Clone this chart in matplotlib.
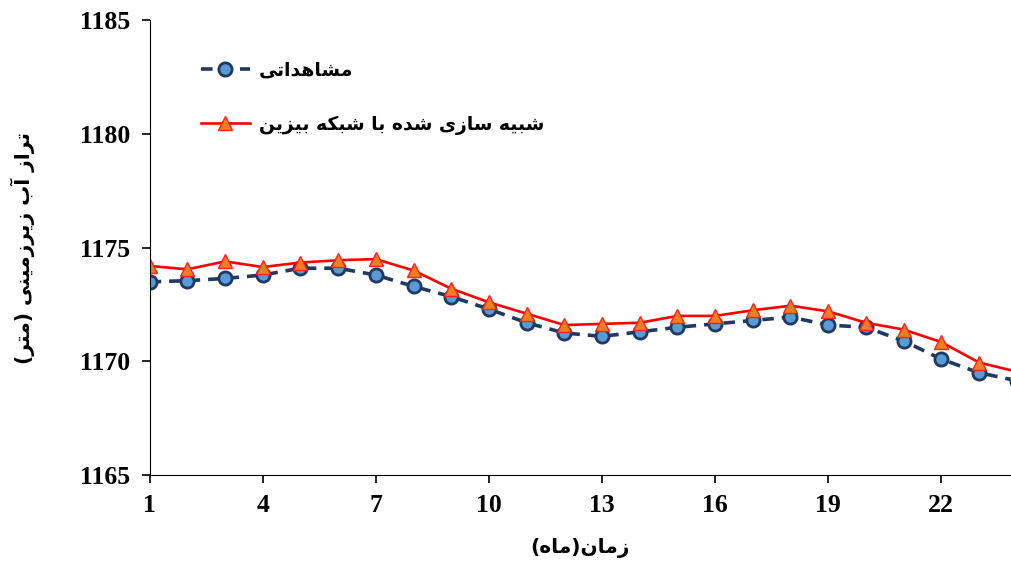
import numpy as np
import matplotlib.pyplot as plt

# presentation forms: isolated, final, initial, medial
FORMS = {
    'ا': ('\uFE8D', '\uFE8E', None, None),
    'آ': ('\uFE81', '\uFE82', None, None),
    'ب': ('\uFE8F', '\uFE90', '\uFE91', '\uFE92'),
    'ت': ('\uFE95', '\uFE96', '\uFE97', '\uFE98'),
    'د': ('\uFEA9', '\uFEAA', None, None),
    'ر': ('\uFEAD', '\uFEAE', None, None),
    'ز': ('\uFEAF', '\uFEB0', None, None),
    'س': ('\uFEB1', '\uFEB2', '\uFEB3', '\uFEB4'),
    'ش': ('\uFEB5', '\uFEB6', '\uFEB7', '\uFEB8'),
    'ک': ('\uFB8E', '\uFB8F', '\uFB90', '\uFB91'),
    'م': ('\uFEE1', '\uFEE2', '\uFEE3', '\uFEE4'),
    'ن': ('\uFEE5', '\uFEE6', '\uFEE7', '\uFEE8'),
    'ه': ('\uFEE9', '\uFEEA', '\uFEEB', '\uFEEC'),
    'ی': ('\uFBFC', '\uFBFD', '\uFBFE', '\uFBFF'),
}


def fa(text):
    out = []
    for i, ch in enumerate(text):
        if ch not in FORMS:
            out.append(ch)
            continue
        prev = text[i - 1] if i > 0 else ''
        nxt = text[i + 1] if i + 1 < len(text) else ''
        join_prev = prev in FORMS and FORMS[prev][2] is not None
        join_next = FORMS[ch][2] is not None and nxt in FORMS
        f = FORMS[ch]
        if join_prev and join_next:
            out.append(f[3])
        elif join_prev:
            out.append(f[1])
        elif join_next:
            out.append(f[2])
        else:
            out.append(f[0])
    vis = ''.join(reversed(out))
    return vis.translate(str.maketrans('()', ')('))


months = np.arange(1, 25)
observed = [1173.5, 1173.55, 1173.65, 1173.8, 1174.1, 1174.1, 1173.8, 1173.3,
            1172.85, 1172.3, 1171.7, 1171.25, 1171.1, 1171.3, 1171.5, 1171.65,
            1171.8, 1171.95, 1171.6, 1171.5, 1170.9, 1170.1, 1169.5, 1169.15]
simulated = [1174.2, 1174.05, 1174.4, 1174.15, 1174.35, 1174.45, 1174.5, 1174.0,
             1173.2, 1172.6, 1172.1, 1171.6, 1171.65, 1171.7, 1172.0, 1172.0,
             1172.25, 1172.45, 1172.2, 1171.7, 1171.4, 1170.85, 1169.95, 1169.55]
xticks = np.arange(1, 23, 3)
yticks = [1165, 1170, 1175, 1180, 1185]

lbl_obs = 'مشاهداتی'
lbl_sim = 'شبیه سازی شده با شبکه بیزین'
xlab = 'زمان(ماه)'
ylab = 'تراز آب زیرزمینی (متر)'

fig = plt.figure(figsize=(10.11, 5.63), dpi=100)
ax = fig.add_axes([0.148, 0.1563, 0.852, 0.8073])

ax.plot(months, observed, color='#1F3864', lw=2.6, linestyle=(0, (3.2, 2.2)),
        marker='o', markersize=9.5, markerfacecolor='#5B9BD5',
        markeredgecolor='#1F3864', markeredgewidth=2, label=fa(lbl_obs))
ax.plot(months, simulated, color='#FF0000', lw=1.9,
        marker='^', markersize=10, markerfacecolor='#F07F20',
        markeredgecolor='#FF2020', markeredgewidth=1, label=fa(lbl_sim))

ax.set_xlim(1, 23.85)
ax.set_ylim(1165, 1185)
ax.set_xticks(xticks)
ax.set_yticks(yticks)
ax.spines['top'].set_visible(False)
ax.spines['right'].set_visible(False)
ax.tick_params(direction='out', length=6, width=1.2, pad=8)
for t in ax.get_xticklabels() + ax.get_yticklabels():
    t.set_fontfamily('Liberation Serif')
    t.set_fontweight('bold')
    t.set_fontsize(18.5)

ax.set_xlabel(fa(xlab), fontfamily='DejaVu Sans', fontweight='bold',
              fontsize=14.5, labelpad=15)
ax.set_ylabel(fa(ylab), fontfamily='DejaVu Sans', fontweight='bold',
              fontsize=14.5, labelpad=32)

leg = ax.legend(loc='upper left', bbox_to_anchor=(0.04, 0.948), frameon=False,
                handlelength=2.6, labelspacing=1.85, handletextpad=0.5,
                prop={'family': 'DejaVu Sans', 'weight': 'bold', 'size': 13.5})

fig.savefig('out.png', dpi=100)
